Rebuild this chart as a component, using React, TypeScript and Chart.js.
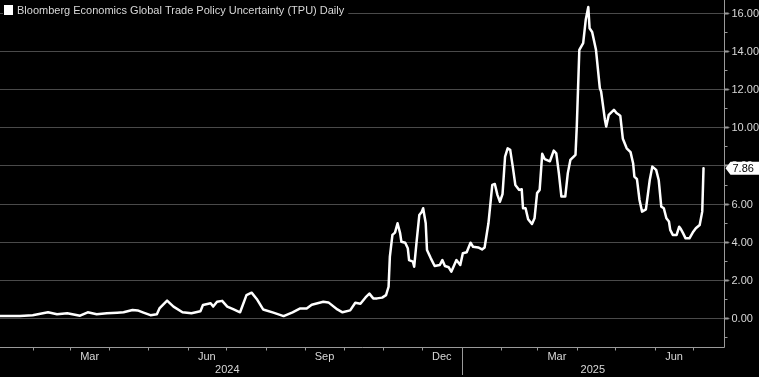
import { useEffect, useRef } from "react";
import { Chart, registerables } from "chart.js";

Chart.register(...registerables);

const TITLE = "Bloomberg Economics Global Trade Policy Uncertainty (TPU) Daily";

const dates: string[] = [
  "2024-01-06", "2024-01-22", "2024-02-01", "2024-02-13", "2024-02-20", "2024-02-28",
  "2024-03-09", "2024-03-15", "2024-03-22", "2024-03-30", "2024-04-07", "2024-04-12",
  "2024-04-19", "2024-04-23", "2024-04-27", "2024-05-03", "2024-05-08", "2024-05-10",
  "2024-05-16", "2024-05-21", "2024-05-28", "2024-06-04", "2024-06-11", "2024-06-13",
  "2024-06-19", "2024-06-21", "2024-06-24", "2024-06-28", "2024-07-02", "2024-07-07",
  "2024-07-12", "2024-07-17", "2024-07-21", "2024-07-25", "2024-07-30", "2024-08-07",
  "2024-08-15", "2024-08-22", "2024-08-28", "2024-09-02", "2024-09-06", "2024-09-15",
  "2024-09-19", "2024-09-26", "2024-09-30", "2024-10-06", "2024-10-10", "2024-10-14",
  "2024-10-18", "2024-10-21", "2024-10-24", "2024-10-27", "2024-10-31", "2024-11-03",
  "2024-11-05", "2024-11-06", "2024-11-08", "2024-11-10", "2024-11-12", "2024-11-14",
  "2024-11-15", "2024-11-18", "2024-11-20", "2024-11-21", "2024-11-24", "2024-11-25",
  "2024-11-27", "2024-11-29", "2024-12-01", "2024-12-02", "2024-12-04", "2024-12-05",
  "2024-12-08", "2024-12-11", "2024-12-15", "2024-12-17", "2024-12-19", "2024-12-22",
  "2024-12-24", "2024-12-28", "2024-12-31", "2025-01-02", "2025-01-05", "2025-01-08",
  "2025-01-10", "2025-01-14", "2025-01-17", "2025-01-19", "2025-01-22", "2025-01-25",
  "2025-01-27", "2025-01-29", "2025-01-31", "2025-02-02", "2025-02-04", "2025-02-06",
  "2025-02-08", "2025-02-10", "2025-02-12", "2025-02-15", "2025-02-17", "2025-02-18",
  "2025-02-20", "2025-02-22", "2025-02-25", "2025-02-27", "2025-03-01", "2025-03-03",
  "2025-03-05", "2025-03-07", "2025-03-11", "2025-03-14", "2025-03-16", "2025-03-18",
  "2025-03-20", "2025-03-23", "2025-03-25", "2025-03-27", "2025-03-31", "2025-04-01",
  "2025-04-03", "2025-04-06", "2025-04-08", "2025-04-10", "2025-04-11", "2025-04-13",
  "2025-04-16", "2025-04-19", "2025-04-20", "2025-04-23", "2025-04-24", "2025-04-26",
  "2025-04-30", "2025-05-02", "2025-05-04", "2025-05-05", "2025-05-07", "2025-05-10",
  "2025-05-13", "2025-05-15", "2025-05-16", "2025-05-18", "2025-05-20", "2025-05-22",
  "2025-05-25", "2025-05-28", "2025-05-30", "2025-06-02", "2025-06-04", "2025-06-06",
  "2025-06-08", "2025-06-10", "2025-06-12", "2025-06-13", "2025-06-15", "2025-06-18",
  "2025-06-20", "2025-06-21", "2025-06-23", "2025-06-25", "2025-06-28", "2025-07-01",
  "2025-07-03", "2025-07-06", "2025-07-08", "2025-07-09",
];

const tpuValues: number[] = [
  0.10, 0.10, 0.15, 0.30, 0.20, 0.25,
  0.12, 0.30, 0.20, 0.25, 0.28, 0.30,
  0.42, 0.40, 0.30, 0.15, 0.20, 0.50,
  0.91, 0.60, 0.30, 0.25, 0.35, 0.68,
  0.77, 0.60, 0.85, 0.90, 0.60, 0.45,
  0.30, 1.20, 1.33, 1.00, 0.45, 0.28,
  0.10, 0.30, 0.50, 0.50, 0.70, 0.85,
  0.82, 0.45, 0.30, 0.40, 0.80, 0.75,
  1.08, 1.28, 1.03, 1.03, 1.07, 1.20,
  1.64, 3.22, 4.36, 4.48, 4.97, 4.45,
  4.00, 3.95, 3.66, 3.04, 2.96, 2.69,
  4.09, 5.40, 5.58, 5.76, 4.97, 3.57,
  3.13, 2.73, 2.78, 3.04, 2.73, 2.66,
  2.43, 3.04, 2.78, 3.40, 3.45, 3.95,
  3.74, 3.70, 3.60, 3.70, 4.97, 6.98,
  7.03, 6.46, 6.10, 6.50, 8.47, 8.90,
  8.82, 7.94, 6.98, 6.72, 6.75, 5.76,
  5.76, 5.18, 4.93, 5.23, 6.55, 6.72,
  8.61, 8.33, 8.22, 8.78, 8.64, 7.60,
  6.37, 6.37, 7.60, 8.29, 8.56, 10.04,
  14.07, 14.42, 15.64, 16.31, 15.20, 15.00,
  14.07, 12.06, 11.88, 10.39, 10.04, 10.66,
  10.92, 10.75, 10.66, 10.60, 9.40, 8.90,
  8.70, 8.12, 7.42, 7.28, 6.19, 5.58,
  5.70, 7.24, 7.94, 7.77, 7.24, 5.84,
  5.76, 5.23, 5.06, 4.62, 4.36, 4.36,
  4.79, 4.70, 4.45, 4.18, 4.18, 4.53,
  4.71, 4.88, 5.58, 7.86,
];

const yTickValues: number[] = [0, 2, 4, 6, 8, 10, 12, 14, 16];
const monthLabelNames: string[] = ["Mar", "Jun", "Sep", "Dec", "Mar", "Jun"];
const monthLabelStarts: string[] = ["2024-03-01", "2024-06-01", "2024-09-01", "2024-12-01", "2025-03-01", "2025-06-01"];
const yearLabels: string[] = ["2024", "2025"];
const LAST_LABEL = "7.86";

const EPOCH = Date.UTC(2024, 0, 1);
const toDay = (s: string): number => {
  const [y, m, d] = s.split("-").map(Number);
  return (Date.UTC(y, m - 1, d) - EPOCH) / 86400000;
};
const dayOf = (y: number, m: number, d: number) => (Date.UTC(y, m - 1, d) - EPOCH) / 86400000;

const FONT = "11px 'Liberation Sans', Arial, sans-serif";
const TEXT = "#d8d8d8";
const GRID = "#4a4a4a";
const AXIS = "#9a9a9a";

const decorPlugin = {
  id: "decor",
  beforeDatasetsDraw(chart: any) {
    const { ctx, chartArea, scales } = chart;
    const ys = scales.y;
    ctx.save();
    ctx.strokeStyle = GRID;
    ctx.lineWidth = 1;
    for (const v of yTickValues) {
      const py = Math.round(ys.getPixelForValue(v)) + 0.5;
      ctx.beginPath();
      ctx.moveTo(chartArea.left, py);
      ctx.lineTo(chartArea.right, py);
      ctx.stroke();
    }
    // legend
    ctx.font = FONT;
    const tw = ctx.measureText(TITLE).width;
    ctx.fillStyle = "#000";
    ctx.fillRect(3, 3, tw + 18, 19);
    ctx.fillStyle = "#ffffff";
    ctx.fillRect(4, 5, 9, 10);
    ctx.fillStyle = TEXT;
    ctx.textBaseline = "middle";
    ctx.textAlign = "left";
    ctx.fillText(TITLE, 17, 11);
    ctx.restore();
  },
  afterDraw(chart: any) {
    const { ctx, chartArea, scales } = chart;
    const xs = scales.x;
    const ys = scales.y;
    const right = Math.round(chartArea.right) + 0.5;
    const bottom = Math.round(chartArea.bottom) + 0.5;
    ctx.save();
    ctx.strokeStyle = AXIS;
    ctx.lineWidth = 1;
    // axes lines
    ctx.beginPath();
    ctx.moveTo(chartArea.left, bottom);
    ctx.lineTo(right, bottom);
    ctx.moveTo(right, chartArea.top);
    ctx.lineTo(right, bottom);
    ctx.stroke();
    // minor y ticks
    for (let v = -1; v <= 16; v += 2) {
      const py = Math.round(ys.getPixelForValue(v)) + 0.5;
      ctx.beginPath();
      ctx.moveTo(right, py);
      ctx.lineTo(right + 3, py);
      ctx.stroke();
    }
    // major y ticks + labels
    ctx.font = FONT;
    ctx.textBaseline = "middle";
    ctx.textAlign = "left";
    for (const v of yTickValues) {
      const py = Math.round(ys.getPixelForValue(v)) + 0.5;
      ctx.fillStyle = AXIS;
      ctx.beginPath();
      ctx.moveTo(right, py - 0.5);
      ctx.lineTo(right + 3, py - 0.5);
      ctx.lineTo(right + 6, py);
      ctx.lineTo(right + 3, py + 0.5);
      ctx.lineTo(right, py + 0.5);
      ctx.closePath();
      ctx.fill();
      ctx.fillRect(right, py - 1, 4, 2);
      ctx.fillStyle = TEXT;
      ctx.fillText(v.toFixed(2), right + 7, py + 0.5);
    }
    // last value label
    const lastV = tpuValues[tpuValues.length - 1];
    const ly = ys.getPixelForValue(lastV);
    ctx.fillStyle = "#ffffff";
    ctx.beginPath();
    ctx.moveTo(right + 1, ly);
    ctx.lineTo(right + 6, ly - 6.5);
    ctx.lineTo(chart.width, ly - 6.5);
    ctx.lineTo(chart.width, ly + 6.5);
    ctx.lineTo(right + 6, ly + 6.5);
    ctx.closePath();
    ctx.fill();
    ctx.fillStyle = "#000";
    ctx.fillText(LAST_LABEL, right + 8, ly + 0.5);
    // month ticks
    ctx.strokeStyle = AXIS;
    for (let i = 0; i < 24; i++) {
      const y = 2024 + Math.floor(i / 12);
      const m = (i % 12) + 1;
      const d = dayOf(y, m, 1);
      if (d < xs.min || d > xs.max) continue;
      const px = Math.round(xs.getPixelForValue(d)) + 0.5;
      ctx.beginPath();
      if (m === 1) {
        ctx.moveTo(px, bottom);
        ctx.lineTo(px, chart.height - 2);
      } else {
        ctx.moveTo(px, bottom);
        ctx.lineTo(px, bottom + 3);
      }
      ctx.stroke();
    }
    // month labels
    ctx.fillStyle = TEXT;
    ctx.textAlign = "center";
    monthLabelNames.forEach((name, i) => {
      const [y, m] = monthLabelStarts[i].split("-").map(Number);
      const a = xs.getPixelForValue(dayOf(y, m, 1));
      const b = xs.getPixelForValue(dayOf(y, m + 1, 1));
      ctx.fillText(name, (a + b) / 2, bottom + 9);
    });
    // year labels
    yearLabels.forEach((yl) => {
      const y = Number(yl);
      const a = xs.getPixelForValue(dayOf(y, 1, 1));
      const b = Math.min(xs.getPixelForValue(dayOf(y + 1, 1, 1)), chartArea.right);
      ctx.fillText(yl, (a + b) / 2, bottom + 22);
    });
    ctx.restore();
  },
};

export default function App() {
  const ref = useRef<HTMLCanvasElement | null>(null);
  useEffect(() => {
    if (!ref.current) return;
    const data = dates.map((d, i) => ({ x: toDay(d), y: tpuValues[i] }));
    const chart = new Chart(ref.current, {
      type: "line",
      data: {
        datasets: [
          {
            label: TITLE,
            data,
            borderColor: "#ffffff",
            borderWidth: 2.5,
            borderJoinStyle: "round",
            borderCapStyle: "round",
            pointRadius: 0,
            tension: 0,
            fill: false,
          },
        ],
      },
      options: {
        animation: false,
        responsive: false,
        maintainAspectRatio: false,
        layout: { padding: { left: 0, top: 0, right: 35, bottom: 30 } },
        plugins: { legend: { display: false }, tooltip: { enabled: false } },
        scales: {
          x: { type: "linear", min: 5.47, max: 571.0, display: false },
          y: { type: "linear", min: -1.52, max: 16.68, display: false },
        },
      },
      plugins: [decorPlugin],
    });
    return () => chart.destroy();
  }, []);
  return (
    <div style={{ position: "fixed", left: 0, top: 0, width: 759, height: 377, background: "#000" }}>
      <canvas ref={ref} width={759} height={377} style={{ display: "block", width: 759, height: 377 }} />
    </div>
  );
}
